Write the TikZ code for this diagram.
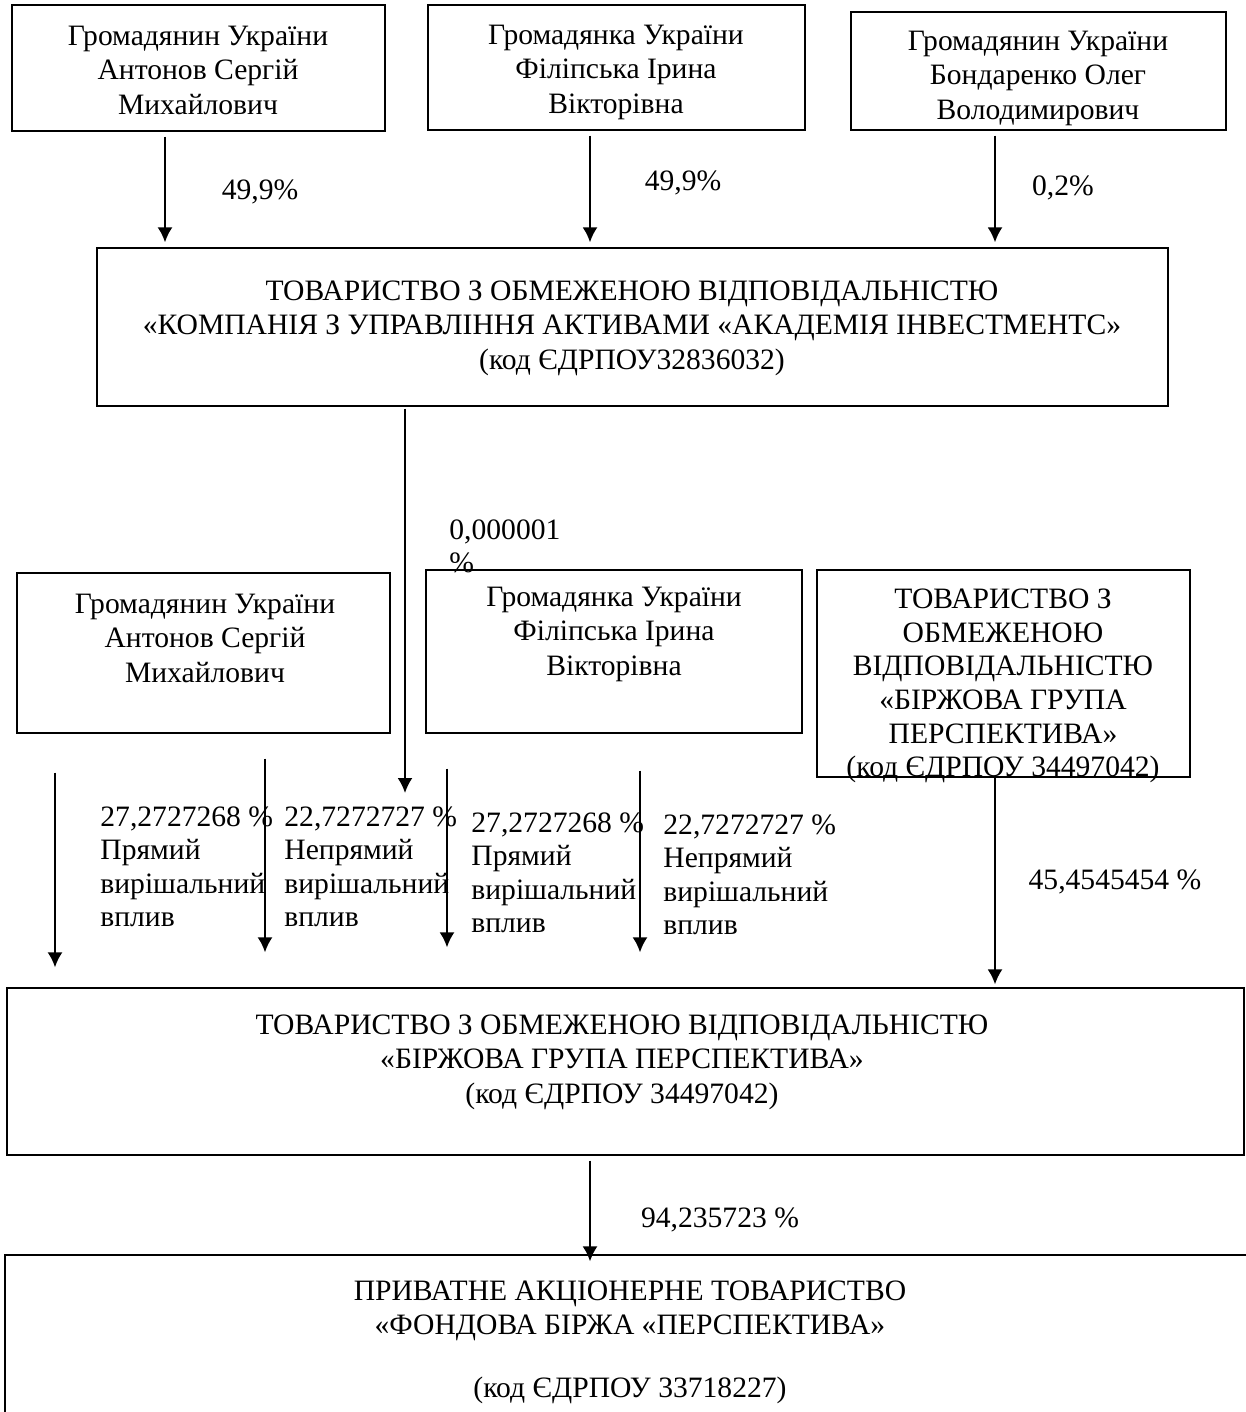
\documentclass[tikz,border=0pt]{standalone}
\usepackage{fontspec}
\setmainfont{Liberation Serif}
\usetikzlibrary{arrows.meta, positioning}
\tikzstyle{box} = [draw, line width=0.65pt, inner sep=0pt]
\tikzstyle{caption} = [align=center, inner sep=0pt, font=\fontsize{14.8}{17.25}\selectfont]
\tikzstyle{share} = [align=left, inner sep=0pt, font=\fontsize{14.8}{16.8}\selectfont]
\tikzstyle{cable} = [line width=1pt, ->, >={Latex[length=7.5pt,width=7.5pt]}]

\begin{document}
\begin{tikzpicture}[x=0.5pt, y=-0.5pt]
  \useasboundingbox (0,0) rectangle (1246,1412);
  % owners of the asset manager
  \node (p1) [box, minimum width=186.5pt, minimum height=63pt] at (198.5,68) {};
  \node (p1t) [caption] at (198,70) {Громадянин України\\Антонов Сергій\\Михайлович};
  \node (p2) [box, minimum width=188.5pt, minimum height=62.5pt] at (616.5,67.5) {};
  \node (p2t) [caption] at (616,72) {Громадянка України\\Філіпська Ірина\\Вікторівна};
  \node (p3) [box, minimum width=187.5pt, minimum height=59pt] at (1038.5,71) {};
  \node (p3t) [caption] at (1038,78) {Громадянин України\\Бондаренко Олег\\Володимирович};
  \node (aim) [box, minimum width=535.5pt, minimum height=79pt] at (632.5,327) {};
  \node (aimt) [caption] at (632,328) {ТОВАРИСТВО З ОБМЕЖЕНОЮ ВІДПОВІДАЛЬНІСТЮ\\«КОМПАНІЯ З УПРАВЛІННЯ АКТИВАМИ «АКАДЕМІЯ ІНВЕСТМЕНТС»\\(код ЄДРПОУ32836032)};
  \draw [cable, shorten <=2.5pt, shorten >=2.5pt] (p1.south -| 165,0) -- (aim.north -| 165,0);
  \draw [cable, shorten <=2.5pt, shorten >=2.5pt] (p2.south -| 590,0) -- (aim.north -| 590,0);
  \draw [cable, shorten <=2.5pt, shorten >=2.5pt] (p3.south -| 995,0) -- (aim.north -| 995,0);
  \node (s1) [share] at (260,192) {49,9\%};
  \node (s2) [share] at (683,183) {49,9\%};
  \node (s3) [share] at (1063,188) {0,2\%};
  % owners of the exchange group
  \node (p4) [box, minimum width=186.5pt, minimum height=80pt] at (203.5,653) {};
  \node (p4t) [caption] at (205,638) {Громадянин України\\Антонов Сергій\\Михайлович};
  \node (p5) [box, minimum width=188pt, minimum height=81.5pt] at (614,651.5) {};
  \node (p5t) [caption] at (614,634) {Громадянка України\\Філіпська Ірина\\Вікторівна};
  \node (bgps) [box, minimum width=186.5pt, minimum height=103.5pt] at (1003.5,673.5) {};
  \node (bgpst) [caption, font=\fontsize{14.8}{16.8}\selectfont] at (1003,686) {ТОВАРИСТВО З\\ОБМЕЖЕНОЮ\\ВІДПОВІДАЛЬНІСТЮ\\«БІРЖОВА ГРУПА\\ПЕРСПЕКТИВА»\\(код ЄДРПОУ 34497042)};
  \node (s4) [share, anchor=north west] at (449,519) {0,000001\\\%};
  \coordinate (aimend) at (405,793);
  \draw [cable, shorten <=1pt] (aim.south -| 405,0) -- (aimend);
  \node (bgp) [box, minimum width=618.5pt, minimum height=83.5pt] at (625.5,1071.5) {};
  \node (bgpt) [caption] at (622,1062) {ТОВАРИСТВО З ОБМЕЖЕНОЮ ВІДПОВІДАЛЬНІСТЮ\\«БІРЖОВА ГРУПА ПЕРСПЕКТИВА»\\(код ЄДРПОУ 34497042)};
  \draw [cable, shorten <=19.5pt, shorten >=10pt] (p4.south -| 55,0) -- (bgp.north -| 55,0);
  \draw [cable, shorten <=12.5pt, shorten >=17.5pt] (p4.south -| 265,0) -- (bgp.north -| 265,0);
  \draw [cable, shorten <=17.5pt, shorten >=20pt] (p5.south -| 447,0) -- (bgp.north -| 447,0);
  \draw [cable, shorten <=18.5pt, shorten >=17.5pt] (p5.south -| 640,0) -- (bgp.north -| 640,0);
  \draw [cable, shorten >=1.5pt] (bgps.south -| 995,0) -- (bgp.north -| 995,0);
  \node (s5) [share, anchor=north west] at (100,806) {27,2727268 \%\\Прямий\\вирішальний\\вплив};
  \node (s6) [share, anchor=north west] at (284,806) {22,7272727 \%\\Непрямий\\вирішальний\\вплив};
  \node (s7) [share, anchor=north west] at (471,812) {27,2727268 \%\\Прямий\\вирішальний\\вплив};
  \node (s8) [share, anchor=north west] at (663,814) {22,7272727 \%\\Непрямий\\вирішальний\\вплив};
  \node (s9) [share] at (1115,882) {45,4545454 \%};
  % the stock exchange
  \node (pat) [box, minimum width=637.5pt, minimum height=97.5pt] at (642.5,1352.5) {};
  \node (patt) [caption, anchor=north] at (630,1280) {ПРИВАТНЕ АКЦІОНЕРНЕ ТОВАРИСТВО\\«ФОНДОВА БІРЖА «ПЕРСПЕКТИВА»\\[14pt](код ЄДРПОУ 33718227)};
  \draw [cable, shorten <=2.5pt, shorten >=-3.5pt] (bgp.south -| 590,0) -- (pat.north -| 590,0);
  \node (s10) [share] at (720,1220) {94,235723 \%};
\end{tikzpicture}
\end{document}
